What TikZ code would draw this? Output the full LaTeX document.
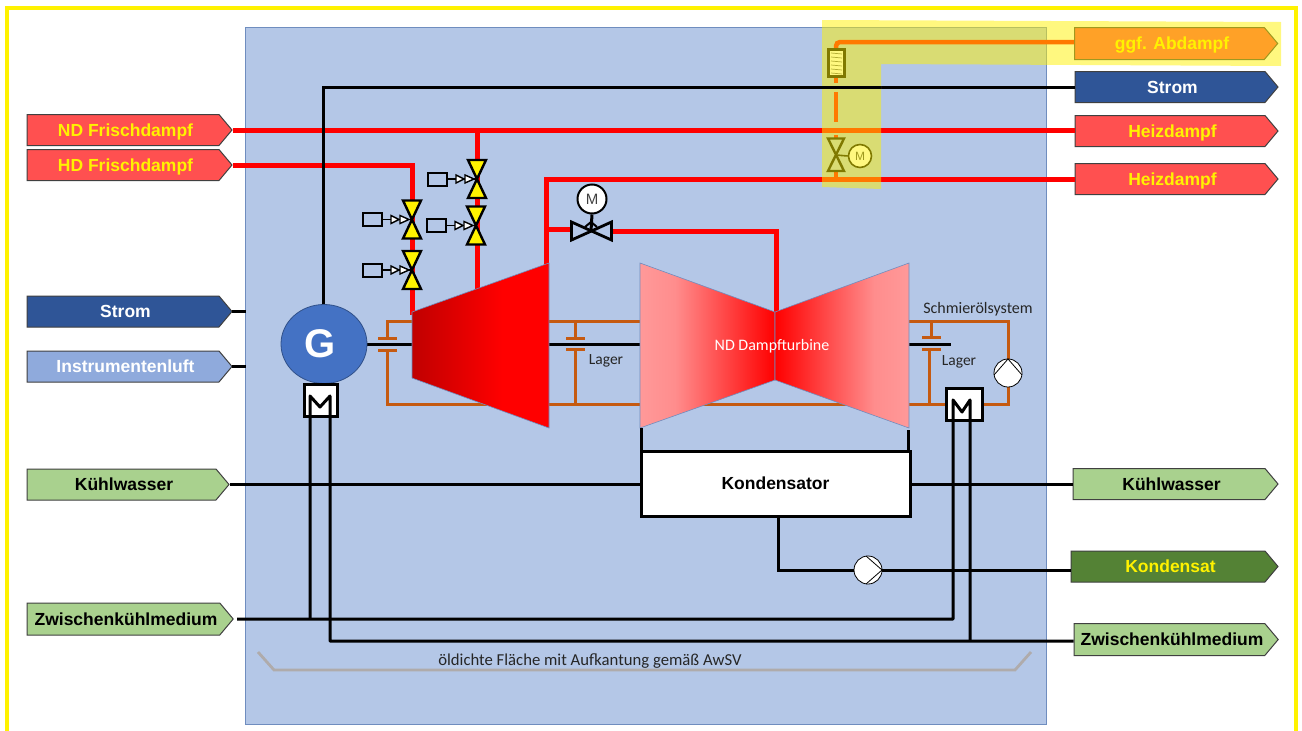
\documentclass[tikz,border=0pt]{standalone}
\usepackage{fontspec}
\setmainfont{Liberation Sans}
\newfontfamily\calfont{Carlito}
\usetikzlibrary{shapes.symbols,shapes.geometric}
\definecolor{bgblue}{HTML}{B4C7E7}
\definecolor{edgeblue}{HTML}{6F8DBF}
\definecolor{tagred}{HTML}{FF5050}
\definecolor{tagnavy}{HTML}{2F5597}
\definecolor{taglight}{HTML}{8FAADC}
\definecolor{taggreen}{HTML}{A9D18E}
\definecolor{tagdark}{HTML}{548235}
\definecolor{gblue}{HTML}{4472C4}
\definecolor{oil}{HTML}{C55A11}
\definecolor{bracket}{HTML}{AFABAB}
\definecolor{lightred}{HTML}{FF9999}
\definecolor{hpdark}{HTML}{C00000}
\definecolor{tagedge}{HTML}{404040}
\pgfdeclarehorizontalshading{ndleft}{100bp}{color(0bp)=(lightred);color(25bp)=(lightred);color(38bp)=(lightred!92!red);color(75bp)=(red);color(100bp)=(red)}
\pgfdeclarehorizontalshading{ndright}{100bp}{color(0bp)=(red);color(25bp)=(red);color(62bp)=(lightred!92!red);color(75bp)=(lightred);color(100bp)=(lightred)}
\pgfdeclarehorizontalshading{hpshade}{100bp}{color(0bp)=(hpdark);color(25bp)=(hpdark);color(58bp)=(red);color(100bp)=(red)}
\tikzset{
  x=1pt,y=-1pt,
  tagbox/.style={shape=signal,signal to=east,signal from=nowhere,signal pointer angle=100,draw=tagedge,line width=1pt,inner sep=0pt,xshift=-6.5pt,text height=12.5pt,text depth=0pt,execute at begin node={\hspace*{5pt}},font=\fontsize{17.5}{19}\selectfont\bfseries},
  steam/.style={draw=red,line width=5pt},
  wire/.style={draw=black,line width=3pt},
  oilline/.style={draw=oil,line width=3pt},
  plate/.style={draw=oil,line width=3pt},
  hxbox/.style={draw=black,line width=3pt,fill=white,minimum width=33pt,minimum height=32pt,inner sep=0pt},
  pumpnode/.style={circle,draw=black,line width=.8pt,fill=white,minimum size=28pt,inner sep=0pt},
  motor/.style={circle,draw=black,line width=2pt,fill=white,minimum size=29pt,inner sep=0pt,font=\fontsize{15}{15}\selectfont,text=black!75},
  lbl/.style={font=\calfont\fontsize{15.5}{17}\selectfont,text=black!85,inner sep=0pt},
  vbody/.style={draw=black,line width=2.4pt,line join=miter},
}
\newcommand{\vvalve}[3]{%
  \coordinate (#1) at (#2,#3);
  \begin{scope}[shift={(#2,#3)}]
    \draw[vbody,fill=yellow] (-9,-19)--(9,-19)--(-9,19)--(9,19)--cycle;
    \node[draw=black,line width=2pt,fill=none,minimum width=19pt,minimum height=13pt,inner sep=0pt] (#1act) at (-40,0) {};
    \draw[black,line width=1.8pt] (#1act.east)--(0,0);
    \draw[black,line width=1.4pt,fill=white] (-21,-4)--(-13,0)--(-21,4)--cycle;
    \draw[black,line width=1.4pt,fill=white] (-12,-4)--(-3,0)--(-12,4)--cycle;
  \end{scope}}
\begin{document}
\begin{tikzpicture}[line cap=butt]
\useasboundingbox (0,0) rectangle (1302,731);
\fill[white] (0,0) rectangle (1302,731);
\draw[yellow,line width=4pt] (7,745)--(7,8)--(1296,8)--(1296,745);
\node[draw=edgeblue,line width=1pt,fill=bgblue,minimum width=801pt,minimum height=697pt,inner sep=0pt] (hall) at (645.5,375.5) {};
% tags
\node[tagbox,fill=tagred,text=yellow,minimum width=205pt,minimum height=31pt] (ndf) at (129.5,130) {ND Frischdampf};
\node[tagbox,fill=tagred,text=yellow,minimum width=205pt,minimum height=31pt] (hdf) at (129.5,165) {HD Frischdampf};
\node[tagbox,fill=tagnavy,text=white,minimum width=205pt,minimum height=31pt] (stroml) at (129.5,311.5) {Strom};
\node[tagbox,fill=taglight,text=white,minimum width=205pt,minimum height=31pt] (luft) at (129.5,366.5) {Instrumentenluft};
\node[tagbox,fill=taggreen,text=black,minimum width=202pt,minimum height=31pt] (kwl) at (128,484.5) {Kühlwasser};
\node[tagbox,fill=taggreen,text=black,minimum width=206pt,minimum height=32pt] (zkl) at (130,619) {Zwischenkühlmedium};
\node[tagbox,fill=tagred,text=yellow,minimum width=203pt,minimum height=32pt] (abd) at (1176,43.5) {ggf. Abdampf};
\node[tagbox,fill=tagnavy,text=white,minimum width=203pt,minimum height=31pt] (stromr) at (1176.5,87) {Strom};
\node[tagbox,fill=tagred,text=yellow,minimum width=203pt,minimum height=31pt] (heizo) at (1176.5,131) {Heizdampf};
\node[tagbox,fill=tagred,text=yellow,minimum width=203pt,minimum height=31pt] (heizu) at (1176.5,179) {Heizdampf};
\node[tagbox,fill=taggreen,text=black,minimum width=205pt,minimum height=31pt] (kwr) at (1175.5,484) {Kühlwasser};
\node[tagbox,fill=tagdark,text=yellow,minimum width=207pt,minimum height=31pt] (kond) at (1174.5,566.5) {Kondensat};
\node[tagbox,fill=taggreen,text=black,minimum width=204pt,minimum height=32pt] (zkr) at (1176,639.5) {Zwischenkühlmedium};
% oil system
\coordinate (oa) at (387,321); \coordinate (ob) at (387,404);
\coordinate (oc) at (1008,321); \coordinate (od) at (1008,404);
\draw[oilline] (387,338)--(oa)--(640,321);
\draw[oilline] (387,350)--(ob)--(945,404);
\draw[oilline] (909,321)--(oc)--(od)--(983,404);
\draw[oilline] (575,321)--(575,338);
\draw[oilline] (575,349)--(575,404);
\draw[oilline] (931,321)--(931,337);
\draw[oilline] (929,349)--(929,404);
\draw[plate] (378,338)--(397,338) (378,350)--(397,350);
\draw[plate] (566,338)--(585,338) (566,349)--(585,349);
\draw[plate] (922,337)--(941,337) (922,349)--(941,349);
% shaft
\coordinate (shaftA) at (367,344); \coordinate (shaftB) at (951,344);
\draw[wire] (shaftA)--(shaftB);
% steam pipes
\coordinate (hdk) at (412,165); \coordinate (hpin) at (412,315);
\coordinate (ndk) at (477,130); \coordinate (hpin2) at (477,291);
\draw[steam] (ndf.east)--(heizo.west|-ndf.east);
\draw[steam] (hdf.east)--(hdk)--(hpin);
\draw[steam] (ndk)--(hpin2);
\coordinate (exA) at (546,266); \coordinate (exB) at (546,179);
\draw[steam] (exA)--(exB)--(heizu.west|-exB);
\coordinate (brA) at (548,229); \coordinate (brB) at (571,229);
\draw[steam] (brA)--(brB);
\coordinate (brC) at (612,231.5); \coordinate (brD) at (776,231.5); \coordinate (brE) at (776,320);
\draw[steam] (brC)--(brD)--(brE);
\coordinate (akn) at (836,42); \coordinate (hxtop) at (836,49); \coordinate (hxbot) at (836,77); \coordinate (vtop) at (836,138); \coordinate (vbot) at (836,172); \coordinate (vend) at (836,178);
\draw[draw=red,line width=4.5pt,rounded corners=4pt] (abd.west|-akn)--(akn)--(hxtop);
\draw[draw=red,line width=4.5pt,dash pattern=on 6pt off 9pt on 30pt off 13pt on 3pt] (hxbot)--(vtop);
\draw[draw=red,line width=4.5pt] (vbot)--(vend);
% turbines
\path[shading=hpshade,draw=edgeblue,line width=.6pt] (412,312)--(549,263)--(549,428)--(412,378)--cycle;
\path[shading=ndleft,draw=edgeblue,line width=.6pt] (640,263)--(775,312)--(775,380)--(640,428)--cycle;
\path[shading=ndright,draw=edgeblue,line width=.6pt] (909,263)--(775,312)--(775,380)--(909,428)--cycle;
\node[lbl,text=white,font=\calfont\fontsize{16}{18}\selectfont] (ndt) at (772,346.5) {ND Dampfturbine};
% generator
\node[ellipse,draw=gblue!70!black,line width=.8pt,fill=gblue,minimum width=86pt,minimum height=79pt,inner sep=0pt,text=white,font=\fontsize{40}{40}\selectfont\bfseries] (gen) at (324,344) {\hspace*{-7pt}G};
% condenser
\node[draw=black,line width=3pt,fill=white,minimum width=269pt,minimum height=65pt,inner sep=0pt,font=\fontsize{17.5}{19}\selectfont\bfseries] (kd) at (775.5,483.5) {Kondensator};
\draw[wire] (641.5,428)--(641.5,451);
\draw[wire] (908,430)--(908,451);
% wires
\coordinate (skn) at (323,87);
\draw[wire] (323,304)--(skn)--(stromr.west);
\coordinate (sa) at (232,311.5); \coordinate (sb) at (246,311.5);
\draw[wire] (sa)--(sb);
\coordinate (la) at (232,366.5); \coordinate (lb) at (246,366.5);
\draw[wire] (la)--(lb);
\draw[wire] (kwl.east)--(kd.west|-kwl.east);
\draw[wire] (kd.east|-kwr.west)--(kwr.west);
% cooler boxes
\node[hxbox] (hxg) at (320.5,400) {};
\node[hxbox,minimum width=36pt] (hxo) at (964,404) {};
\coordinate (zkstart) at (237,619); \coordinate (zkcorner) at (953,619); \coordinate (zkb) at (330,641);
\draw[wire,line join=round] (zkstart)--(zkcorner)--(953,400)--(962,412)--(970,400)--(970,641);
\draw[wire,line join=round] (310,619)--(310,396)--(320,407)--(330,396)--(zkb)--(zkr.west|-zkb);
% condensate
\node[pumpnode] (pk) at (868,570) {};
\draw[black,line width=.8pt] (866,556)--(882,570)--(866,584);
\draw[wire] (778,516)--(778,570)--(pk.west);
\draw[wire] (pk.east)--(kond.west|-pk.east);
% oil pump
\node[pumpnode] (po) at (1008,373) {};
\draw[black,line width=.8pt] (994,375)--(1008,359)--(1022,375);
% gate with motor
\node[motor] (mg) at (592,199) {M};
\coordinate (gv) at (591,231);
\draw[wire] (mg.south)--(gv);
\draw[black,line width=2.8pt] (571.5,222)--(611.5,240)--(611.5,222)--(571.5,240)--cycle;
\draw[black,line width=2pt] (585,227)--(591,222)--(597,227);
% valves
\vvalve{v1}{477}{179}
\vvalve{v2}{476}{225.5}
\vvalve{v3}{412}{219.5}
\vvalve{v4}{412}{270}
% highlighted units
\node[draw=black,line width=2.4pt,fill=white,minimum width=16pt,minimum height=27pt,inner sep=0pt] (hxa) at (836.5,63) {};
\foreach \yy in {53,57,61,65,69,73} \draw[black!60,line width=.7pt] (831,\yy)--(842,\yy+1);
\draw[vbody] (828,138.5)--(844,138.5)--(828,171)--(844,171)--cycle;
\node[motor,line width=1.6pt,minimum size=23pt,font=\fontsize{12}{12}\selectfont] (ma) at (860,156) {M};
\draw[black,line width=1.6pt] (836,155)--(ma.west);
% labels
\node[lbl] (l1) at (606,361) {Lager};
\node[lbl] (l2) at (959,362) {Lager};
\node[lbl,font=\calfont\fontsize{16}{18}\selectfont] (l3) at (978,309) {Schmierölsystem};
\node[lbl,font=\calfont\fontsize{16.7}{18}\selectfont] (l4) at (590,661) {öldichte Fläche mit Aufkantung gemäß AwSV};
\coordinate (ba) at (258,652); \coordinate (bb) at (274,670); \coordinate (bc) at (1015,670); \coordinate (bd) at (1031,652);
\draw[draw=bracket,line width=2.8pt] (ba)--(bb)--(bc)--(bd);
% highlight
\fill[yellow,opacity=.5] (822,20)--(1281,22)--(1281,66)--(881,64)--(881,189)--(822,187)--cycle;
\coordinate (wa) at (822,87); \coordinate (wb) at (881,87);
\draw[wire] (wa)--(wb);
\end{tikzpicture}
\end{document}
